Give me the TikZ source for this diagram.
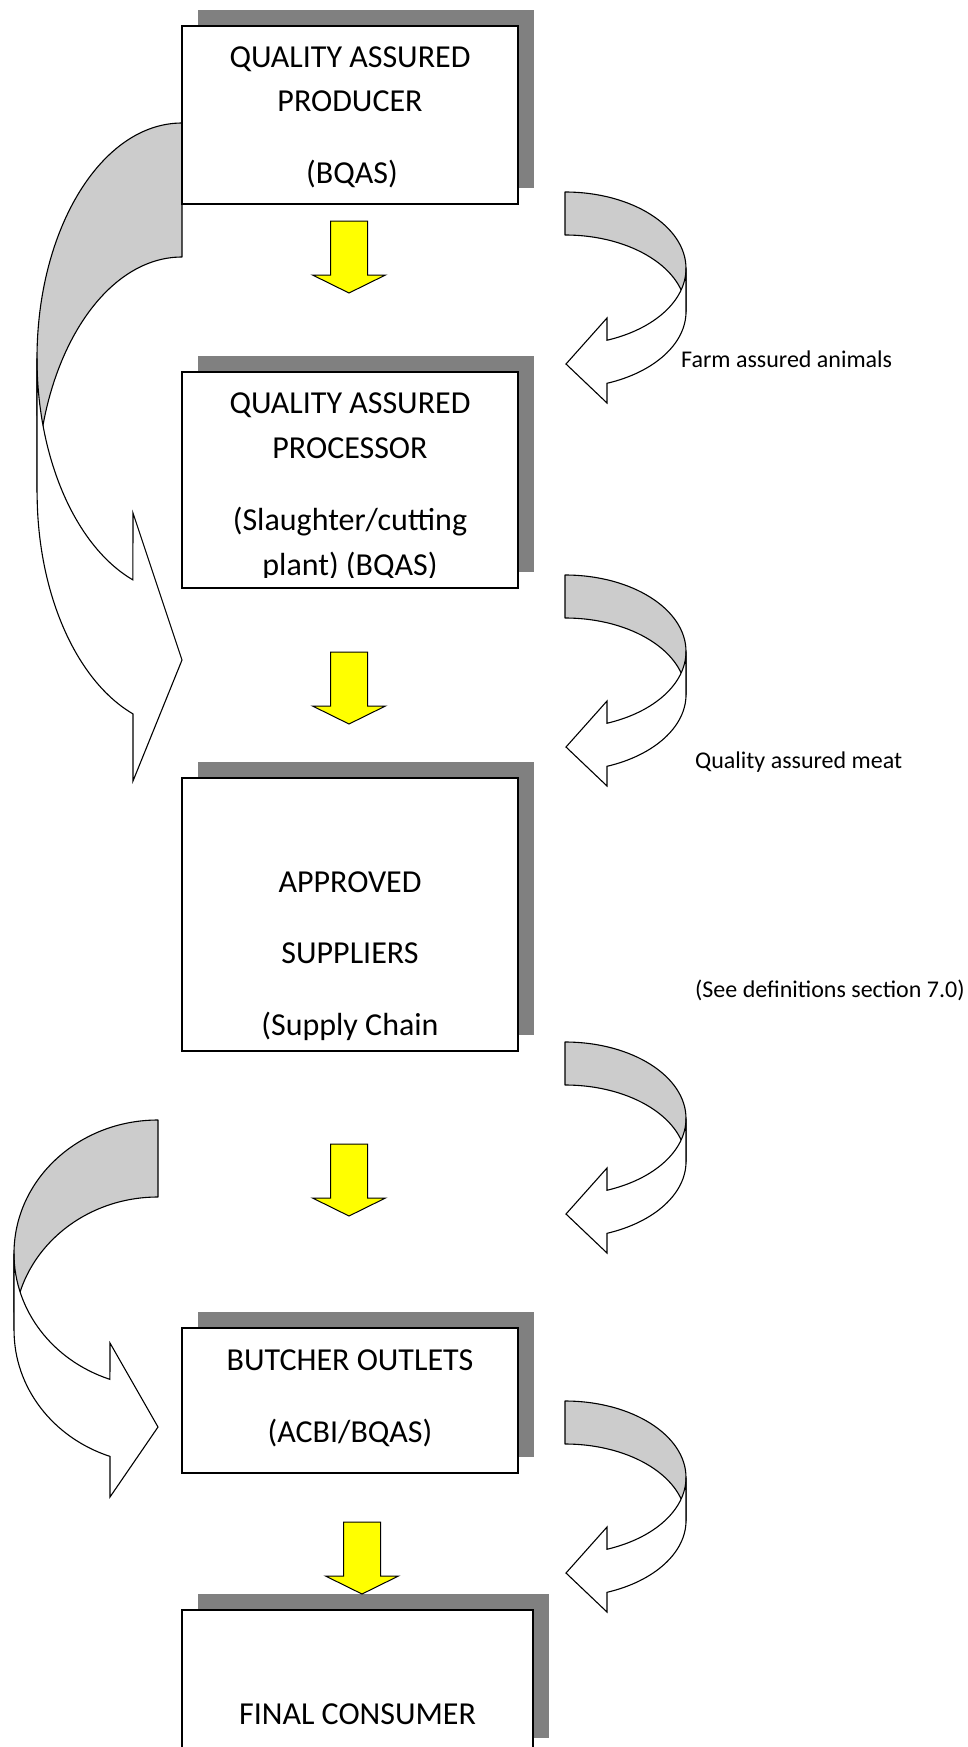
\documentclass[tikz,border=0pt]{standalone}
\usepackage{fontspec}
\setmainfont{Carlito}
\usetikzlibrary{shadows}
\definecolor{shgray}{HTML}{808080}
\definecolor{bandgray}{HTML}{CCCCCC}
\definecolor{arrowyellow}{HTML}{FFFF00}
\newcommand\rightcurl[1]{%
  \draw[band] (565,{-#1}) arc[start angle=90,end angle=0,x radius=121,y radius=76.5]
    -- ++(0,-43) arc[start angle=0,end angle=90,x radius=121,y radius=76.5] -- cycle;
  \draw[front] (686,{-(#1+76.5)}) arc[start angle=0,end angle=-69.7,x radius=121,y radius=76.5]
    -- (607,{-(#1+126)}) -- (566,{-(#1+172)}) -- (607,{-(#1+211)}) -- (607,{-(#1+191.3)})
    arc[start angle=-69.7,end angle=0,x radius=121,y radius=76.5] -- cycle;}
\newcommand\downarrowblock[2]{%
  \draw[yarrow] ({#1-18.5},{-#2}) -- ({#1+18.5},{-#2}) -- ({#1+18.5},{-(#2+54)})
    -- ({#1+36.5},{-(#2+54)}) -- (#1,{-(#2+72)}) -- ({#1-36.5},{-(#2+54)})
    -- ({#1-18.5},{-(#2+54)}) -- cycle;}
\begin{document}
\begin{tikzpicture}[x=1pt,y=1pt,
  box/.style={draw=black, line width=1.6pt, fill=white, rectangle, inner sep=0pt,
    minimum width=336pt,
    drop shadow={shadow xshift=16pt, shadow yshift=16pt, fill=shgray, opacity=1}},
  lbl/.style={anchor=base, inner sep=0pt, font=\fontsize{32}{38}\selectfont},
  note/.style={anchor=base west, inner sep=0pt, font=\fontsize{24}{29}\selectfont},
  band/.style={draw=black, line width=1.1pt, fill=bandgray, line join=round},
  front/.style={draw=black, line width=1.1pt, fill=white, line join=miter},
  yarrow/.style={draw=black, line width=1pt, fill=arrowyellow, line join=miter}]

\fill[white] (0,0) rectangle (968,-1747);
\useasboundingbox (0,0) rectangle (968,-1747);

% left curved arrows
\draw[band] (182,-123) arc[start angle=90,end angle=180,x radius=145,y radius=235.4]
  -- ++(0,-134) arc[start angle=180,end angle=90,x radius=145,y radius=235.4] -- cycle;
\draw[front] (37,-358.4) arc[start angle=180,end angle=250.2,x radius=145,y radius=235.4]
  -- (133,-513) -- (182,-660) -- (133,-781) -- (133,-713.9)
  arc[start angle=250.2,end angle=180,x radius=145,y radius=235.4] -- cycle;

\draw[band] (158,-1120) arc[start angle=90,end angle=180,x radius=144,y radius=133.5]
  -- ++(0,-77) arc[start angle=180,end angle=90,x radius=144,y radius=133.5] -- cycle;
\draw[front] (14,-1253.5) arc[start angle=180,end angle=250.5,x radius=144,y radius=133.5]
  -- (110,-1343) -- (158,-1427) -- (110,-1497) -- (110,-1456.4)
  arc[start angle=250.5,end angle=180,x radius=144,y radius=133.5] -- cycle;

% right curved arrows
\rightcurl{192}
\rightcurl{575}
\rightcurl{1042}
\rightcurl{1401}

% boxes
\node[box, minimum height=178pt] (b1) at (350,-115) {};
\node[box, minimum height=216pt] (b2) at (350,-480) {};
\node[box, minimum height=273pt] (b3) at (350,-914.5) {};
\node[box, minimum height=145pt] (b4) at (350,-1400.5) {};
\node[box, minimum width=351pt, minimum height=144pt] (b5) at (357.5,-1682) {};

% box texts
\node[lbl] (t1a) at (350,-68) {QUALITY ASSURED};
\node[lbl] (t1b) at (350,-112) {PRODUCER};
\node[lbl] (t1c) at (352,-184) {(BQAS)};

\begin{scope}
\clip (182,-372) rectangle (518,-577);
\node[lbl] (t2a) at (350,-413) {QUALITY ASSURED};
\node[lbl] (t2b) at (350,-458) {PROCESSOR};
\node[lbl] (t2c) at (350,-530) {(Slaughter/cutting};
\node[lbl] (t2d) at (350,-575) {plant) (BQAS)};
\end{scope}

\node[lbl] (t3a) at (350,-892) {APPROVED};
\node[lbl] (t3b) at (350,-963) {SUPPLIERS};
\node[lbl] (t3c) at (350,-1035) {(Supply Chain};

\node[lbl] (t4a) at (350,-1370) {BUTCHER OUTLETS};
\node[lbl] (t4b) at (350,-1442) {(ACBI/BQAS)};

\node[lbl] (t5a) at (357.5,-1724) {FINAL CONSUMER};

% yellow block arrows
\downarrowblock{349}{221}
\downarrowblock{349}{652}
\downarrowblock{349}{1144}
\downarrowblock{362}{1522}

% side notes
\node[note] (n1) at (681,-367) {Farm assured animals};
\node[note] (n2) at (695,-768) {Quality assured meat};
\node[note] (n3) at (695,-997) {(See definitions section 7.0)};
\end{tikzpicture}
\end{document}
